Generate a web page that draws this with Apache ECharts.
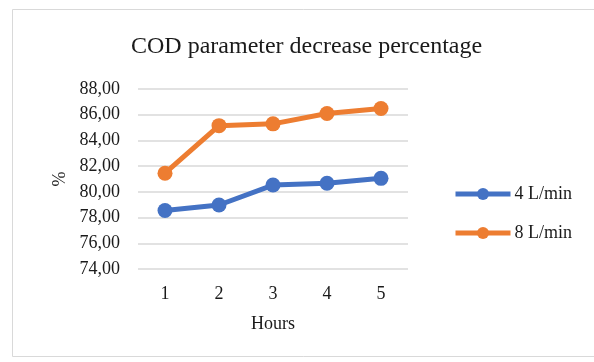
<!DOCTYPE html>
<html>
<head>
<meta charset="utf-8">
<script src="https://cdn.jsdelivr.net/npm/echarts@6/dist/echarts.min.js"></script>
<style>
  html, body { margin: 0; padding: 0; background: #fff; }
  #chart { width: 594px; height: 362px; }
</style>
</head>
<body>
<div id="chart"></div>
<script>
// Hours of treatment and COD removal (%) at two flow rates
const hours = ['1', '2', '3', '4', '5'];
const flow4 = [78.55, 78.98, 80.53, 80.67, 81.05];
const flow8 = [81.45, 85.15, 85.29, 86.09, 86.48];
const yTicks = { min: 74, max: 88, step: 2 };

const FONT = '"Liberation Serif", "DejaVu Serif", serif';
const BLUE = '#4472C4';
const ORANGE = '#ED7D31';
const INK = '#1a1a1a';

const chart = echarts.init(document.getElementById('chart'), null, { renderer: 'canvas' });

function lineSeries(name, data, color) {
  return {
    name: name,
    type: 'line',
    data: data,
    symbol: 'circle',
    symbolSize: 15,
    lineStyle: { color: color, width: 5 },
    itemStyle: { color: color },
    animation: false
  };
}

chart.setOption({
  backgroundColor: '#fff',
  graphic: [{
    type: 'rect',
    shape: { x: 12.5, y: 9.5, width: 600, height: 347 },
    style: { fill: 'none', stroke: '#d9d9d9', lineWidth: 1 },
    silent: true,
    z: -1
  }],
  title: {
    text: 'COD parameter decrease percentage',
    left: 126,
    top: 30,
    textStyle: { fontFamily: FONT, fontSize: 24, fontWeight: 'normal', color: INK }
  },
  legend: {
    orient: 'vertical',
    left: 448,
    top: 180,
    itemGap: 21,
    itemWidth: 55,
    itemHeight: 15,
    lineStyle: { width: 5 },
    textStyle: { fontFamily: FONT, fontSize: 18, color: INK, padding: [0, 0, 0, -1] },
    data: ['4 L/min', '8 L/min']
  },
  grid: { left: 138, right: 186, top: 89, bottom: 93, containLabel: false },
  xAxis: {
    type: 'category',
    data: hours,
    boundaryGap: true,
    name: 'Hours',
    nameLocation: 'middle',
    nameGap: 46,
    nameTextStyle: { fontFamily: FONT, fontSize: 18, color: INK },
    axisLine: { show: false },
    axisTick: { show: false },
    axisLabel: { fontFamily: FONT, fontSize: 18, color: INK, margin: 16 }
  },
  yAxis: {
    type: 'value',
    min: yTicks.min,
    max: yTicks.max,
    interval: yTicks.step,
    name: '%',
    nameLocation: 'middle',
    nameGap: 69,
    nameTextStyle: { fontFamily: FONT, fontSize: 18, color: INK },
    axisLine: { show: false },
    axisTick: { show: false },
    splitLine: { lineStyle: { color: '#d9d9d9', width: 1.5 } },
    axisLabel: {
      fontFamily: FONT,
      fontSize: 18,
      color: INK,
      margin: 18,
      formatter: v => v.toFixed(2).replace('.', ',')
    }
  },
  series: [
    lineSeries('4 L/min', flow4, BLUE),
    lineSeries('8 L/min', flow8, ORANGE)
  ]
});
</script>
</body>
</html>
